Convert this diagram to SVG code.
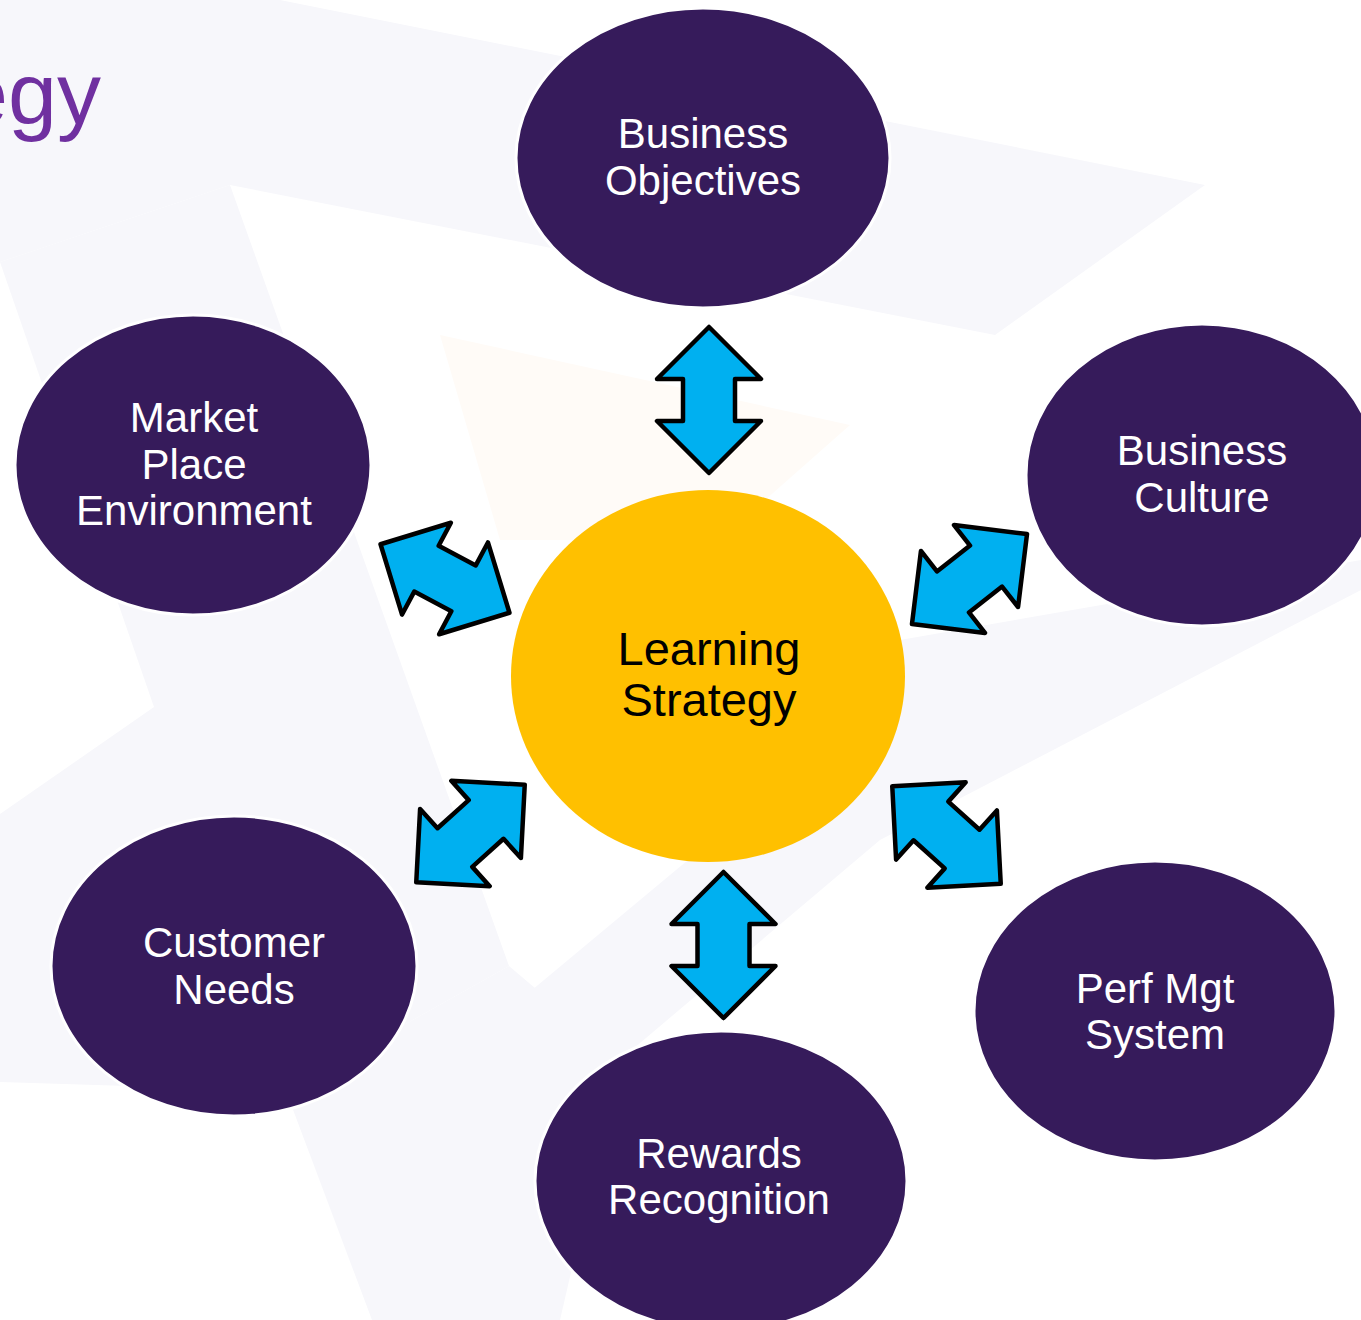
<svg xmlns="http://www.w3.org/2000/svg" width="1361" height="1320" viewBox="0 0 1361 1320">
<style>
.node{fill:#361b5b;stroke:#ffffff;stroke-width:3}
.core{fill:#ffc000}
.lbl{font-family:"Liberation Sans",Arial,sans-serif;font-size:42px;fill:#ffffff;text-anchor:middle}
.lbl2{font-family:"Liberation Sans",Arial,sans-serif;font-size:47px;fill:#000000;text-anchor:middle}
.arr{fill:#00b0f0;stroke:#000000;stroke-width:4.5;stroke-linejoin:round}
.bg{fill:#f7f7fb}
</style>
<defs>
<path id="dbl" d="M -73,0 L -21,-52 L -21,-26 L 21,-26 L 21,-52 L 73,0 L 21,52 L 21,26 L -21,26 L -21,52 Z"/>
</defs>
<rect width="1361" height="1320" fill="#ffffff"/>
<g id="background">
<polygon class="bg" points="0,0 280,0 1205,185 995,335 230,185 0,262"/>
<polygon class="bg" points="0,262 230,185 509,966 286,1091 0,1082 0,814 154,707"/>
<polygon class="bg" points="286,1091 509,966 620,1060 560,1320 372,1320"/>
<polygon class="bg" points="520,1000 700,850 900,640 1361,560 1361,590 880,840 620,1060"/>
<polygon points="440,335 850,425 720,540 500,540" fill="#fffbf7"/>
</g>
<text x="101" y="124" font-family="'Liberation Sans',Arial,sans-serif" font-size="88" fill="#7030a0" text-anchor="end">egy</text>
<g id="connectors">
<use href="#dbl" class="arr" transform="translate(709,400) rotate(90)"/>
<use href="#dbl" class="arr" transform="translate(723.5,945) rotate(90)"/>
<use href="#dbl" class="arr" transform="translate(445,578.5) rotate(28)"/>
<use href="#dbl" class="arr" transform="translate(969.5,579) rotate(-38)"/>
<use href="#dbl" class="arr" transform="translate(470.5,833.5) rotate(-42)"/>
<use href="#dbl" class="arr" transform="translate(946.5,835) rotate(42)"/>
</g>
<g id="business-objectives">
<ellipse class="node" cx="703" cy="158" rx="187" ry="150"/>
<text class="lbl" x="703" y="148">Business</text>
<text class="lbl" x="703" y="195">Objectives</text>
</g>
<g id="market-place">
<ellipse class="node" cx="193" cy="465" rx="178" ry="150"/>
<text class="lbl" x="194" y="432">Market</text>
<text class="lbl" x="194" y="479">Place</text>
<text class="lbl" x="194" y="525">Environment</text>
</g>
<g id="business-culture">
<ellipse class="node" cx="1202" cy="475" rx="176" ry="151"/>
<text class="lbl" x="1202" y="465">Business</text>
<text class="lbl" x="1202" y="512">Culture</text>
</g>
<g id="learning-strategy">
<ellipse class="core" cx="708" cy="676" rx="197" ry="186"/>
<text class="lbl2" x="709" y="665">Learning</text>
<text class="lbl2" x="709" y="716">Strategy</text>
</g>
<g id="customer-needs">
<ellipse class="node" cx="234" cy="966" rx="183" ry="150"/>
<text class="lbl" x="234" y="957">Customer</text>
<text class="lbl" x="234" y="1004">Needs</text>
</g>
<g id="perf-mgt">
<ellipse class="node" cx="1155" cy="1011" rx="181" ry="150"/>
<text class="lbl" x="1155" y="1003">Perf Mgt</text>
<text class="lbl" x="1155" y="1049">System</text>
</g>
<g id="rewards">
<ellipse class="node" cx="721" cy="1181" rx="186" ry="150"/>
<text class="lbl" x="719" y="1168">Rewards</text>
<text class="lbl" x="719" y="1214">Recognition</text>
</g>
</svg>
